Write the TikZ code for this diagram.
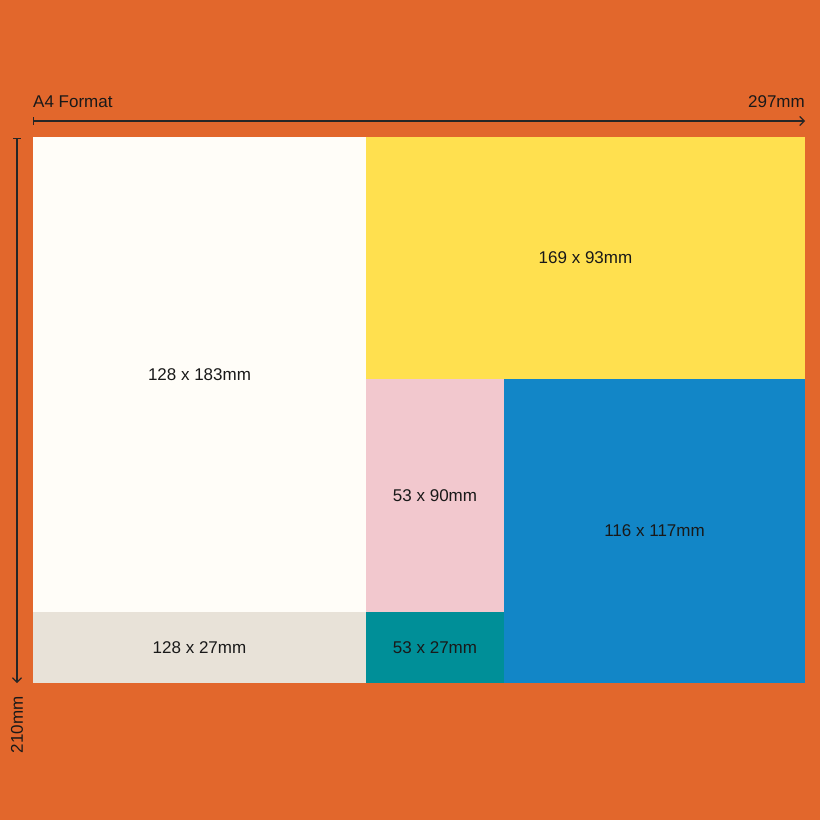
\documentclass[tikz,border=0pt]{standalone}
\usepackage{fontspec}
\setmainfont{Liberation Sans}
\usetikzlibrary{arrows.meta}
\definecolor{bgor}{HTML}{E2672C}
\definecolor{cwhite}{HTML}{FFFDF8}
\definecolor{cbeige}{HTML}{E8E2D8}
\definecolor{cyellow}{HTML}{FFE04F}
\definecolor{cpink}{HTML}{F2C8CE}
\definecolor{cteal}{HTML}{008F98}
\definecolor{cblue}{HTML}{1286C7}
\begin{document}
\begin{tikzpicture}[x=1pt,y=-1pt,
  lbl/.style={font=\fontsize{17}{20}\selectfont, text=black!90},
  dimarrow/.style={line width=1.1pt, draw=black!85, {Bar[width=8pt]}-{Straight Barb[length=4.5pt,width=9pt]}},
  panel/.style={draw=none, inner sep=0pt}]
\fill[bgor] (0,0) rectangle (820,820);
\useasboundingbox (0,0) rectangle (820,820);
% panels
\fill[cwhite] (33,137) rectangle (366,612);
\fill[cbeige] (33,612) rectangle (366,683);
\fill[cyellow] (366,137) rectangle (805,379);
\fill[cpink] (366,379) rectangle (504,612);
\fill[cteal] (366,612) rectangle (504,683);
\fill[cblue] (504,379) rectangle (805,683);
% labels
\node[lbl] (l1) at (199.5,374.5) {128 x 183mm};
\node[lbl] (l2) at (199.5,647.5) {128 x 27mm};
\node[lbl] (l3) at (585.5,258) {169 x 93mm};
\node[lbl] (l4) at (435,495.5) {53 x 90mm};
\node[lbl] (l5) at (435,647.5) {53 x 27mm};
\node[lbl] (l6) at (654.5,531) {116 x 117mm};
% dimension arrows
\coordinate (h0) at (33,121);
\coordinate (h1) at (805,121);
\coordinate (v0) at (17,138);
\coordinate (v1) at (17,683);
\draw[dimarrow] (h0) -- (h1);
\draw[dimarrow] (v0) -- (v1);
\node[lbl, anchor=base west, inner sep=0pt] (a4) at (33,107) {A4 Format};
\node[lbl, anchor=base east, inner sep=0pt] (w) at (805,107) {297mm};
\node[lbl, rotate=90, inner sep=0pt] (h) at (17,725) {210mm};
\end{tikzpicture}
\end{document}
